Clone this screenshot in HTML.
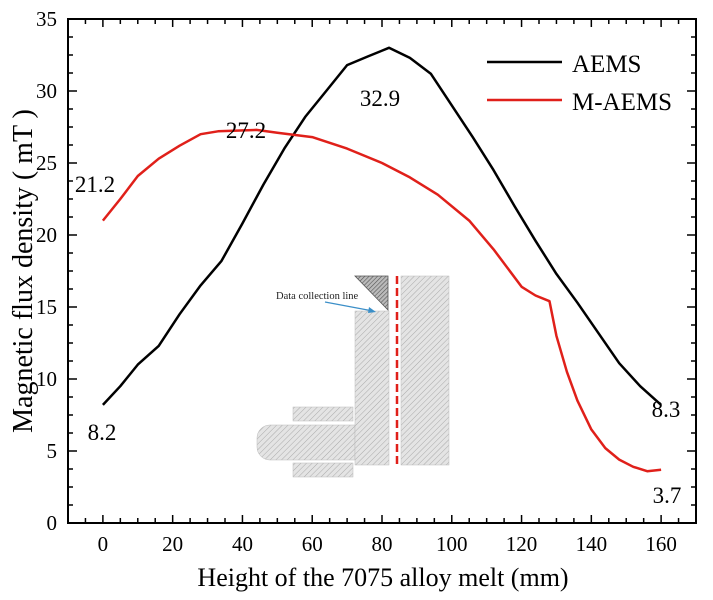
<!DOCTYPE html>
<html><head><meta charset="utf-8"><style>
html,body{margin:0;padding:0;background:#fff}
svg text{font-family:"Liberation Serif",serif}
</style></head><body>
<svg id="chart" width="713" height="595" viewBox="0 0 713 595">
<defs>
<pattern id="hatch" width="4" height="4" patternUnits="userSpaceOnUse" patternTransform="rotate(45)">
<rect width="4" height="4" fill="#e4e4e4"/><line x1="0" y1="0" x2="0" y2="4" stroke="#aaa" stroke-width="1"/></pattern>
<pattern id="hatch2" width="3" height="3" patternUnits="userSpaceOnUse" patternTransform="rotate(45)">
<rect width="3" height="3" fill="#bbb"/><line x1="0" y1="0" x2="0" y2="3" stroke="#555" stroke-width="1.2"/></pattern>
</defs>
<g id="inset">
<rect x="293" y="407" width="60" height="14" fill="url(#hatch)" stroke="#bbb" stroke-width="0.5"/>
<rect x="293" y="463" width="60" height="14" fill="url(#hatch)" stroke="#bbb" stroke-width="0.5"/>
<path d="M270,425 H355 V460 H270 A13,13 0 0 1 257,447 V438 A13,13 0 0 1 270,425 Z" fill="url(#hatch)" stroke="#bbb" stroke-width="0.5"/>
<rect x="355" y="311" width="34" height="154" fill="url(#hatch)" stroke="#bbb" stroke-width="0.5"/>
<rect x="401" y="276" width="48" height="189" fill="url(#hatch)" stroke="#bbb" stroke-width="0.5"/>
<polygon points="355,276 388,276 388,310" fill="url(#hatch2)" stroke="#555" stroke-width="0.8"/>
<line x1="397" y1="276" x2="397" y2="465" stroke="#e0201a" stroke-width="2.5" stroke-dasharray="8,4"/>
<text x="276" y="299" font-size="10.5" fill="#222">Data collection line</text>
<line x1="325" y1="302" x2="373" y2="311" stroke="#3b8fc8" stroke-width="1.2"/>
<polygon points="376,312 369,307 368,313" fill="#3b8fc8"/>
</g>
<g id="axes"></g>
<g id="series"></g>
<g id="labels">
<text x="380" y="106" font-size="23" text-anchor="middle">32.9</text>
<text x="246" y="138" font-size="23" text-anchor="middle">27.2</text>
<text x="95" y="192" font-size="23" text-anchor="middle">21.2</text>
<text x="102" y="440" font-size="23" text-anchor="middle">8.2</text>
<text x="666" y="417" font-size="23" text-anchor="middle">8.3</text>
<text x="667" y="503" font-size="23" text-anchor="middle">3.7</text>
</g>
<g>
<line x1="487" y1="62" x2="562" y2="62" stroke="#000" stroke-width="2.5"/>
<text x="572" y="72" font-size="25">AEMS</text>
<line x1="487" y1="100" x2="562" y2="100" stroke="#e0201a" stroke-width="2.5"/>
<text x="572" y="110" font-size="25">M-AEMS</text>
</g>
<text x="383" y="586" font-size="26" text-anchor="middle">Height of the 7075 alloy melt (mm)</text>
<text transform="translate(32,271) rotate(-90)" font-size="28" text-anchor="middle">Magnetic flux density ( mT )</text>
</svg>
<script>
const xTicks=[0,20,40,60,80,100,120,140,160];
const yTicks=[0,5,10,15,20,25,30,35];
const aemsX=[0,5,10,16,22,28,34,40,46,52,58,64,70,76,82,88,94,100,106,112,118,124,130,136,142,148,154,160];
const aemsY=[8.2,9.5,11,12.3,14.5,16.5,18.2,20.8,23.5,26,28.2,30,31.8,32.4,33,32.3,31.2,29,26.8,24.5,22,19.6,17.3,15.3,13.2,11.1,9.5,8.2];
const maemsX=[0,5,10,16,22,28,33,44,50,60,70,80,88,96,105,112,120,124,128,130,133,136,140,144,148,152,156,160];
const maemsY=[21,22.5,24.1,25.3,26.2,27,27.2,27.3,27.1,26.8,26,25,24,22.8,21,19,16.4,15.8,15.4,13,10.5,8.5,6.5,5.2,4.4,3.9,3.6,3.7];
const L=68,R=696,T=19,B=523,xmin=-10,xmax=170,ymin=0,ymax=35;
const sx=v=>L+(v-xmin)/(xmax-xmin)*(R-L);
const sy=v=>B-(v-ymin)/(ymax-ymin)*(B-T);
const NS='http://www.w3.org/2000/svg';
function mk(t,a,p){const e=document.createElementNS(NS,t);for(const k in a)e.setAttribute(k,a[k]);p.appendChild(e);return e;}
const ax=document.getElementById('axes');
const frame=mk('rect',{x:L,y:T,width:R-L,height:B-T,fill:'none',stroke:'#000','stroke-width':2},ax);


for(let v=-5;v<=165;v+=5){const maj=v%20===0;const len=maj?8:5;const x=sx(v);
mk('line',{x1:x,y1:B,x2:x,y2:B-len,stroke:'#000','stroke-width':1.5},ax);
mk('line',{x1:x,y1:T,x2:x,y2:T+len,stroke:'#000','stroke-width':1.5},ax);}
xTicks.forEach(v=>{const t=mk('text',{x:sx(v),y:B+28,'font-size':21,'text-anchor':'middle'},ax);t.textContent=v;

});
for(let v=0;v<=35;v+=1.25){const maj=v%5===0;const len=maj?9:5;const y=sy(v);
mk('line',{x1:L,y1:y,x2:L+len,y2:y,stroke:'#000','stroke-width':1.5},ax);
mk('line',{x1:R,y1:y,x2:R-len,y2:y,stroke:'#000','stroke-width':1.5},ax);}
yTicks.forEach(v=>{const t=mk('text',{x:L-11,y:sy(v)+7,'font-size':21,'text-anchor':'end'},ax);t.textContent=v;

});
const sg=document.getElementById('series');
function line(xs,ys,c,n){const d=xs.map((x,i)=>(i?'L':'M')+sx(x).toFixed(1)+','+sy(ys[i]).toFixed(1)).join(' ');
const p=mk('path',{d:d,fill:'none',stroke:c,'stroke-width':2.5,'stroke-linejoin':'round'},sg);

}
line(aemsX,aemsY,'#000','aems-line');
line(maemsX,maemsY,'#e0201a','maems-line');
</script>
</body></html>
